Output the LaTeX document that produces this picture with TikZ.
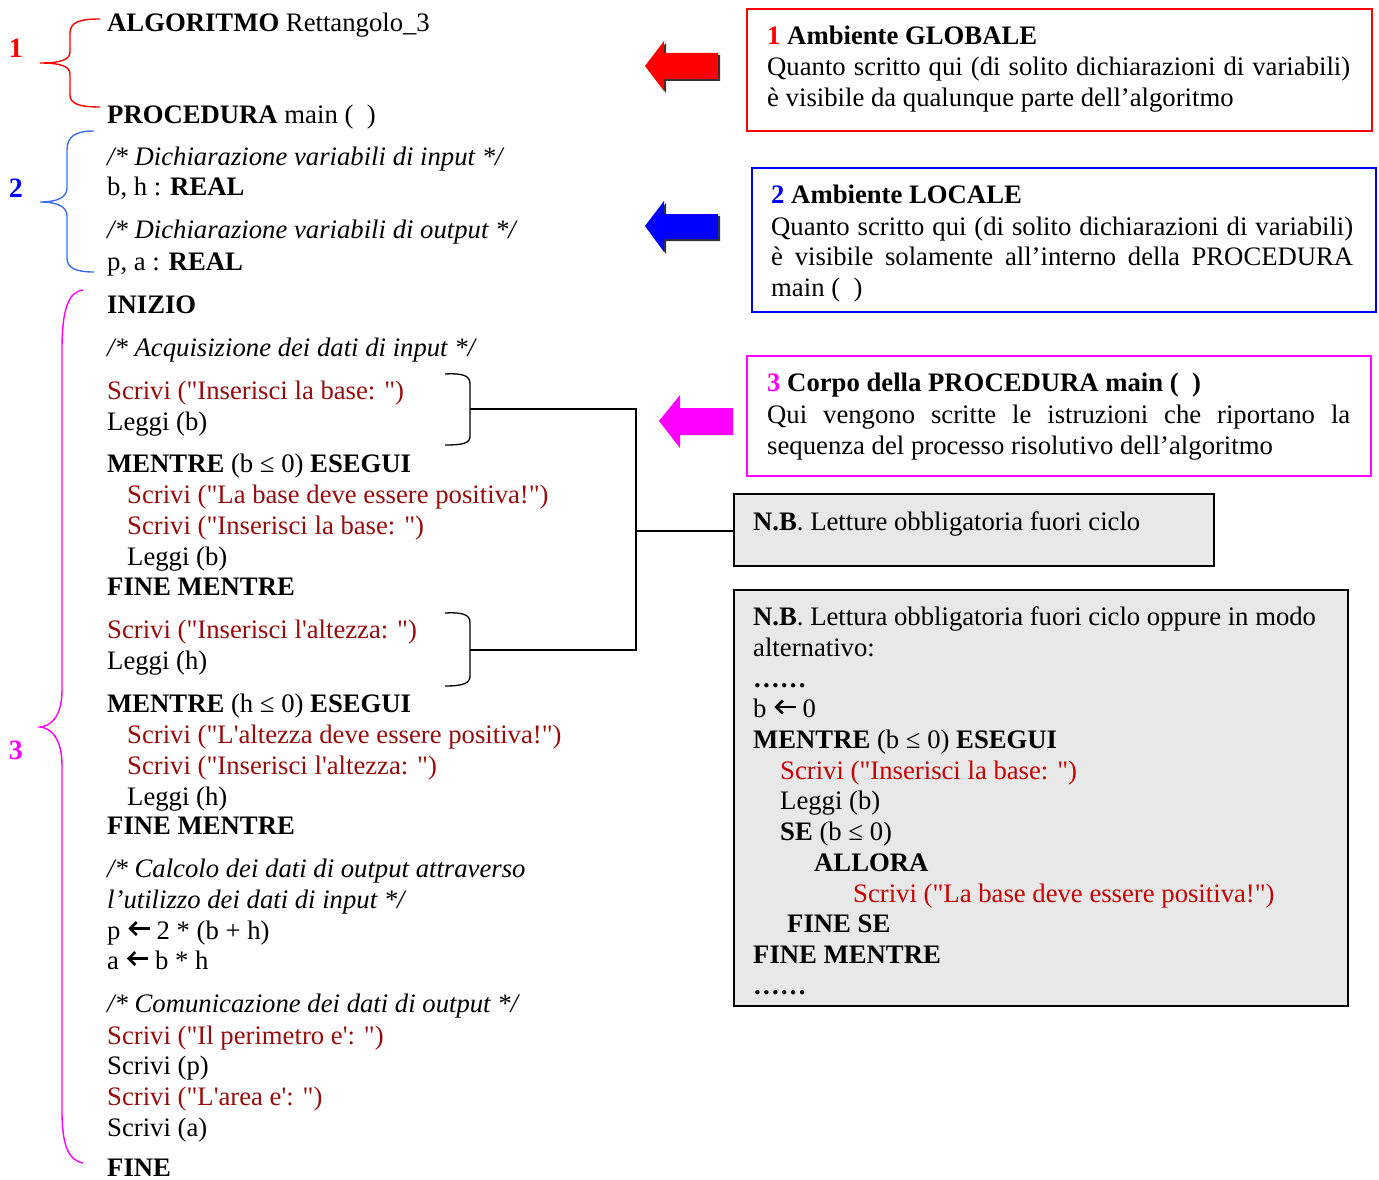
\documentclass[tikz,border=0pt]{standalone}
\usepackage{fontspec}
\setmainfont{Liberation Serif}[Ligatures=TeXOff]
\newcommand{\fs}{\fontsize{26.7}{30.7}\selectfont}
\definecolor{codered}{RGB}{150,12,12}
\definecolor{boxred}{RGB}{200,0,0}
\definecolor{bracered}{RGB}{255,0,0}
\definecolor{braceblue}{RGB}{60,110,235}
\definecolor{pureblue}{RGB}{0,0,255}
\definecolor{puremag}{RGB}{255,0,255}
\definecolor{gfill}{RGB}{232,232,232}
\tikzset{
  code/.style={anchor=base west, inner sep=0pt, font=\fs},
  rcode/.style={code, text=codered},
  rbox/.style={code, text=boxred},
  num/.style={anchor=center, inner sep=0pt, font=\fontsize{28}{30}\selectfont\bfseries},
  frame/.style={anchor=north west, inner sep=0pt, line width=1.6pt},
  brc/.style={line width=1.4pt},
  blk/.style={line width=1.3pt, black},
  larrow/.pic={
    \draw[line width=2.5pt] (16,-17) -- (9.5,-10.5) -- (16,-4);
    \draw[line width=2.5pt] (9.5,-10.5) -- (29,-10.5);
  },
}
\begin{document}
\begin{tikzpicture}[x=1pt,y=-1pt]
\useasboundingbox (0,0) rectangle (1379,1180);

% ---------- left column ----------
\node[code] (l1) at (107,31.5) {\textbf{ALGORITMO} Rettangolo\_3};
\node[code] (l2) at (107,123.5) {\textbf{PROCEDURA} main (~~)};
\node[code] (l3) at (107,166) {\textit{/* Dichiarazione variabili di input */}};
\node[code] (l4) at (107,196) {b, h : \textbf{REAL}};
\node[code] (l5) at (107,238.5) {\textit{/* Dichiarazione variabili di output */}};
\node[code] (l6) at (107,270) {p, a : \textbf{REAL}};
\node[code] (l7) at (107,313) {\textbf{INIZIO}};
\node[code] (l8) at (107,356) {\textit{/* Acquisizione dei dati di input */}};
\node[rcode] (l9) at (107,399) {Scrivi ("Inserisci la base: ")};
\node[code] (l10) at (107,430) {Leggi (b)};
\node[code] (l11) at (107,472) {\textbf{MENTRE} (b ≤ 0) \textbf{ESEGUI}};
\node[rcode] (l12) at (127,503) {Scrivi ("La base deve essere positiva!")};
\node[rcode] (l13) at (127,534) {Scrivi ("Inserisci la base: ")};
\node[code] (l14) at (127,565) {Leggi (b)};
\node[code] (l15) at (107,595) {\textbf{FINE MENTRE}};
\node[rcode] (l16) at (107,638) {Scrivi ("Inserisci l'altezza: ")};
\node[code] (l17) at (107,669) {Leggi (h)};
\node[code] (l18) at (107,712) {\textbf{MENTRE} (h ≤ 0) \textbf{ESEGUI}};
\node[rcode] (l19) at (127,743) {Scrivi ("L'altezza deve essere positiva!")};
\node[rcode] (l20) at (127,774) {Scrivi ("Inserisci l'altezza: ")};
\node[code] (l21) at (127,805) {Leggi (h)};
\node[code] (l22) at (107,834) {\textbf{FINE MENTRE}};
\node[code] (l23) at (107,877) {\textit{/* Calcolo dei dati di output attraverso}};
\node[code] (l24) at (107,908) {\textit{l’utilizzo dei dati di input */}};
\node[code] (l25a) at (107,939) {p};
\pic at (l25a.base east) {larrow};
\node[code] (l25b) at ([xshift=35.7pt]l25a.base east) {2 * (b + h)};
\node[code] (l26a) at (107,969) {a};
\pic at (l26a.base east) {larrow};
\node[code] (l26b) at ([xshift=35.7pt]l26a.base east) {b * h};
\node[code] (l27) at (107,1012) {\textit{/* Comunicazione dei dati di output */}};
\node[rcode] (l28) at (107,1044) {Scrivi ("Il perimetro e': ")};
\node[code] (l29) at (107,1074) {Scrivi (p)};
\node[rcode] (l30) at (107,1105) {Scrivi ("L'area e': ")};
\node[code] (l31) at (107,1136) {Scrivi (a)};
\node[code] (l32) at (107,1176.5) {\textbf{FINE}};

% ---------- big braces ----------
\draw[brc, bracered] (100,19) .. controls (80,19) and (70,22) .. (70,33) -- (70,52)
  .. controls (70,60) and (60,63) .. (40,63)
  .. controls (60,63) and (70,66) .. (70,74) -- (70,95)
  .. controls (70,104) and (80,107) .. (100,107);
\node[num, text=bracered] (n1) at (16,48) {1};

\draw[brc, braceblue] (94,131) .. controls (76,131) and (67,136) .. (67,150) -- (67,188)
  .. controls (67,197) and (58,202) .. (40,202)
  .. controls (58,202) and (67,207) .. (67,216) -- (67,258)
  .. controls (67,268) and (76,272) .. (94,272);
\node[num, text=pureblue] (n2) at (16,188) {2};

\draw[brc, puremag] (83,290) .. controls (68,292) and (62,310) .. (62,350) -- (62,690)
  .. controls (62,715) and (52,726) .. (40,727)
  .. controls (52,728) and (62,740) .. (62,765) -- (62,1110)
  .. controls (62,1145) and (68,1160) .. (83,1163);
\node[num, text=puremag] (n3) at (16,750) {3};

% ---------- small black braces and connectors ----------
\draw[blk] (445,374) .. controls (464,373) and (470,376) .. (470,384) -- (470,436)
  .. controls (470,443) and (464,445) .. (445,445);
\coordinate (t1) at (470,409);
\draw[blk] (445,613) .. controls (464,612) and (470,615) .. (470,623) -- (470,676)
  .. controls (470,683) and (464,686) .. (445,686);
\coordinate (t2) at (470,650);
\coordinate (jtop) at (636,409);
\coordinate (jbot) at (636,650);
\coordinate (jmid) at (636,531);

% ---------- right boxes ----------
\node[frame, draw=bracered, minimum width=625, minimum height=122] (box1) at (746,8) {};
\node[frame, draw=pureblue, minimum width=624, minimum height=144] (box2) at (751,167) {};
\node[frame, draw=puremag, minimum width=624, minimum height=120] (box3) at (746,355) {};
\node[frame, draw=black, fill=gfill, minimum width=480, minimum height=72] (nb1) at (733,493) {};
\node[frame, draw=black, fill=gfill, minimum width=614, minimum height=416] (nb2) at (733,589) {};

\draw[blk] (t1) -- (jtop) -- (jbot) -- (t2);
\draw[blk] (jmid) -- (nb1.west |- jmid);

% box 1
\node[code] (b1a) at (767,44.5) {\textbf{\textcolor{bracered}{1} Ambiente GLOBALE}};
\node[code] (b1b) at (767,75.5) {\makebox[583pt][s]{Quanto scritto qui (di solito dichiarazioni di variabili)}};
\node[code] (b1c) at (767,106.5) {è visibile da qualunque parte dell’algoritmo};
% box 2
\node[code] (b2a) at (771,203.5) {\textbf{\textcolor{pureblue}{2} Ambiente LOCALE}};
\node[code] (b2b) at (771,235.5) {\makebox[582pt][s]{Quanto scritto qui (di solito dichiarazioni di variabili)}};
\node[code] (b2c) at (771,265.5) {\makebox[582pt][s]{è visibile solamente all’interno della PROCEDURA}};
\node[code] (b2d) at (771,296.5) {main (~~)};
% box 3
\node[code] (b3a) at (767,391.5) {\textbf{\textcolor{puremag}{3} Corpo della PROCEDURA main (~~)}};
\node[code] (b3b) at (767,423.5) {\makebox[583pt][s]{Qui vengono scritte le istruzioni che riportano la}};
\node[code] (b3c) at (767,454.5) {sequenza del processo risolutivo dell’algoritmo};
% NB 1
\node[code] (g1) at (753,530.5) {\textbf{N.B}. Letture obbligatoria fuori ciclo};
% NB 2
\node[code] (g2a) at (753,625.5) {\textbf{N.B}. Lettura obbligatoria fuori ciclo oppure in modo};
\node[code] (g2b) at (753,656.5) {alternativo:};
\node[code] (g2c) at (753,687) {\textbf{……}};
\node[code] (g2d1) at (753,717.5) {b};
\pic at (g2d1.base east) {larrow};
\node[code] (g2d2) at ([xshift=35.7pt]g2d1.base east) {0};
\node[code] (g2e) at (753,748.5) {\textbf{MENTRE} (b ≤ 0) \textbf{ESEGUI}};
\node[rbox] (g2f) at (780,779.5) {Scrivi ("Inserisci la base: ")};
\node[code] (g2g) at (780,809.5) {Leggi (b)};
\node[code] (g2h) at (780,840.5) {\textbf{SE} (b ≤ 0)};
\node[code] (g2i) at (814,871.5) {\textbf{ALLORA}};
\node[rbox] (g2j) at (853,902.5) {Scrivi ("La base deve essere positiva!")};
\node[code] (g2k) at (787,932.5) {\textbf{FINE SE}};
\node[code] (g2l) at (753,963.5) {\textbf{FINE MENTRE}};
\node[code] (g2m) at (753,994) {\textbf{……}};

% ---------- block arrows ----------
\fill[black!80] (647,68) -- (666,43) -- (666,55) -- (720,55) -- (720,81) -- (666,81) -- (666,93) -- cycle;
\fill[bracered] (645,66) -- (664,41) -- (664,53) -- (718,53) -- (718,79) -- (664,79) -- (664,91) -- cycle;
\fill[black!80] (647,228) -- (666,203) -- (666,216) -- (720,216) -- (720,241) -- (666,241) -- (666,254) -- cycle;
\fill[pureblue] (645,226) -- (664,201) -- (664,214) -- (718,214) -- (718,239) -- (664,239) -- (664,252) -- cycle;
\fill[puremag] (659,421) -- (680,395) -- (680,408) -- (733,408) -- (733,435) -- (680,435) -- (680,448) -- cycle;
\end{tikzpicture}
\end{document}
